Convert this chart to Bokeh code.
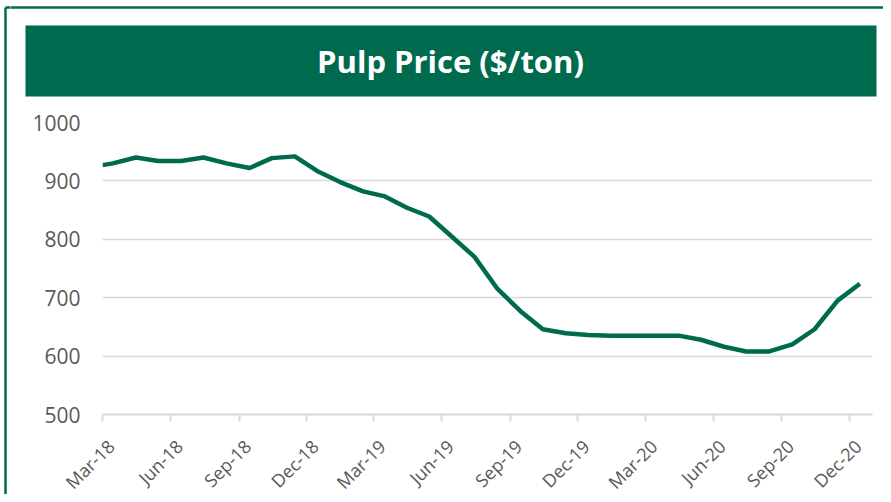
import math
from datetime import datetime
from bokeh.plotting import figure
from bokeh.models import Range1d, FixedTicker
from bokeh.layouts import column, row
from bokeh.core.properties import value
from bokeh.embed import file_html
from bokeh.resources import INLINE

# ---- data ----
dates = ["2018-03-01", "2018-03-15", "2018-04-15", "2018-05-15", "2018-06-15", "2018-07-15",
         "2018-08-15", "2018-09-15", "2018-10-15", "2018-11-15", "2018-12-15",
         "2019-01-15", "2019-02-15", "2019-03-15", "2019-04-15", "2019-05-15", "2019-06-15",
         "2019-07-15", "2019-08-15", "2019-09-15", "2019-10-15", "2019-11-15", "2019-12-15",
         "2020-01-15", "2020-02-15", "2020-03-15", "2020-04-15", "2020-05-15", "2020-06-15",
         "2020-07-15", "2020-08-15", "2020-09-15", "2020-10-15", "2020-11-15", "2020-12-15"]
prices = [927, 930, 940, 934, 934, 940, 930, 922, 939, 942, 917,
          898, 882, 874, 854, 839, 804, 770, 715, 677, 646, 639, 636,
          635, 635, 635, 635, 628, 616, 608, 608, 620, 646, 695, 724]
tick_dates = ["2018-03-01", "2018-06-01", "2018-09-01", "2018-12-01", "2019-03-01", "2019-06-01",
              "2019-09-01", "2019-12-01", "2020-03-01", "2020-06-01", "2020-09-01", "2020-12-01"]
tick_labels = ["Mar-18", "Jun-18", "Sep-18", "Dec-18", "Mar-19", "Jun-19",
               "Sep-19", "Dec-19", "Mar-20", "Jun-20", "Sep-20", "Dec-20"]
y_ticks = [500, 600, 700, 800, 900, 1000]
x_start, x_end = "2018-03-01", "2021-01-01"
title_text = "Pulp Price ($/ton)"

GREEN = "#006a4e"
GRID = "#d9d9d9"
LABEL = "#595959"
FONT = "Open Sans"

def to_dt(s):
    return datetime.strptime(s, "%Y-%m-%d")

def to_ms(s):
    return int((to_dt(s) - datetime(1970, 1, 1)).total_seconds() * 1000)

xs = [to_dt(d) for d in dates]
tick_ms = [to_ms(d) for d in tick_dates]

# ---- layout geometry (pixels) ----
W, H = 883, 494
STRIP_W = 10                  # left frame strip
TOP_H = 100                   # banner strip
FRAME_L, FRAME_R = 102, 872   # chart frame, canvas x
FRAME_T, FRAME_B = 122, 414   # chart frame, canvas y
CH_BOTTOM_BORDER = 14
CH_H = FRAME_B - TOP_H + CH_BOTTOM_BORDER
LBL_H = H - TOP_H - CH_H


def bare(width, height, xr, yr):
    f = figure(width=width, height=height, output_backend="svg", toolbar_location=None,
               tools="", x_range=xr, y_range=yr,
               x_axis_location=None, y_axis_location=None,
               min_border_left=0, min_border_right=0, min_border_top=0, min_border_bottom=0)
    f.outline_line_color = None
    f.grid.visible = False
    f.background_fill_color = "white"
    f.border_fill_color = "white"
    return f

# ---- left frame strip (full height) ----
fs = bare(STRIP_W, H, Range1d(0, STRIP_W), Range1d(H, 0))
fs.segment(x0=[5, 5], y0=[7, 7], x1=[5, STRIP_W + 2], y1=[H + 5, 7],
           line_color=GREEN, line_width=2.5)

# ---- banner strip ----
fb = bare(W - STRIP_W, TOP_H, Range1d(STRIP_W, W), Range1d(TOP_H, 0))
fb.segment(x0=[STRIP_W - 2], y0=[7], x1=[W + 5], y1=[7], line_color=GREEN, line_width=2.5)
fb.quad(left=[25], right=[876], top=[25], bottom=[96], fill_color=GREEN, line_color=None)
fb.text(x=[450], y=[60.5], text=[title_text], text_align="center", text_baseline="middle",
        text_font=value(FONT), text_font_style="bold", text_font_size="31px",
        text_color="white")

# ---- chart ----
p = figure(width=W - STRIP_W, height=CH_H, x_axis_type="datetime", output_backend="svg",
           toolbar_location=None, tools="",
           x_range=Range1d(to_dt(x_start), to_dt(x_end)),
           y_range=Range1d(y_ticks[0], y_ticks[-1]),
           min_border_left=FRAME_L - STRIP_W, min_border_right=W - FRAME_R,
           min_border_top=FRAME_T - TOP_H, min_border_bottom=CH_BOTTOM_BORDER)
p.outline_line_color = None
p.background_fill_color = "white"
p.border_fill_color = "white"

p.line(xs, prices, line_color=GREEN, line_width=4.5, line_join="round")

xa = p.xaxis[0]
xa.ticker = FixedTicker(ticks=[], minor_ticks=tick_ms)   # tick marks only; labels below
xa.axis_line_color = GRID
xa.axis_line_width = 2
xa.major_tick_line_color = None
xa.minor_tick_line_color = GRID
xa.minor_tick_line_width = 2
xa.minor_tick_out = 7
xa.minor_tick_in = 0
xa.major_label_standoff = 0

ya = p.yaxis[0]
ya.ticker = FixedTicker(ticks=y_ticks)
ya.axis_line_color = None
ya.major_tick_line_color = None
ya.minor_tick_line_color = None
ya.major_tick_out = 0
ya.major_tick_in = 0
ya.major_label_standoff = 22
ya.major_label_text_font = FONT
ya.major_label_text_font_size = "21px"
ya.major_label_text_color = LABEL

p.xgrid.visible = False
p.ygrid.grid_line_color = GRID
p.ygrid.grid_line_width = 1.5

# ---- rotated date labels strip (same x scale as the chart frame) ----
span = to_dt(x_end) - to_dt(x_start)
px = span / (FRAME_R - FRAME_L)
fl_range = Range1d(to_dt(x_start) - px * (FRAME_L - STRIP_W), to_dt(x_end) + px * (W - FRAME_R))
fl = bare(W - STRIP_W, LBL_H, fl_range, Range1d(LBL_H, 0))
fl.text(x=[to_dt(d) for d in tick_dates], y=[6] * len(tick_dates), text=tick_labels,
        angle=math.pi / 4, x_offset=0, text_align="right", text_baseline="top",
        text_font=value(FONT), text_font_size="18px", text_color=LABEL)

layout = row(fs, column(row(fb), row(p), row(fl)))

open("out.html", "w").write(file_html(layout, INLINE))
